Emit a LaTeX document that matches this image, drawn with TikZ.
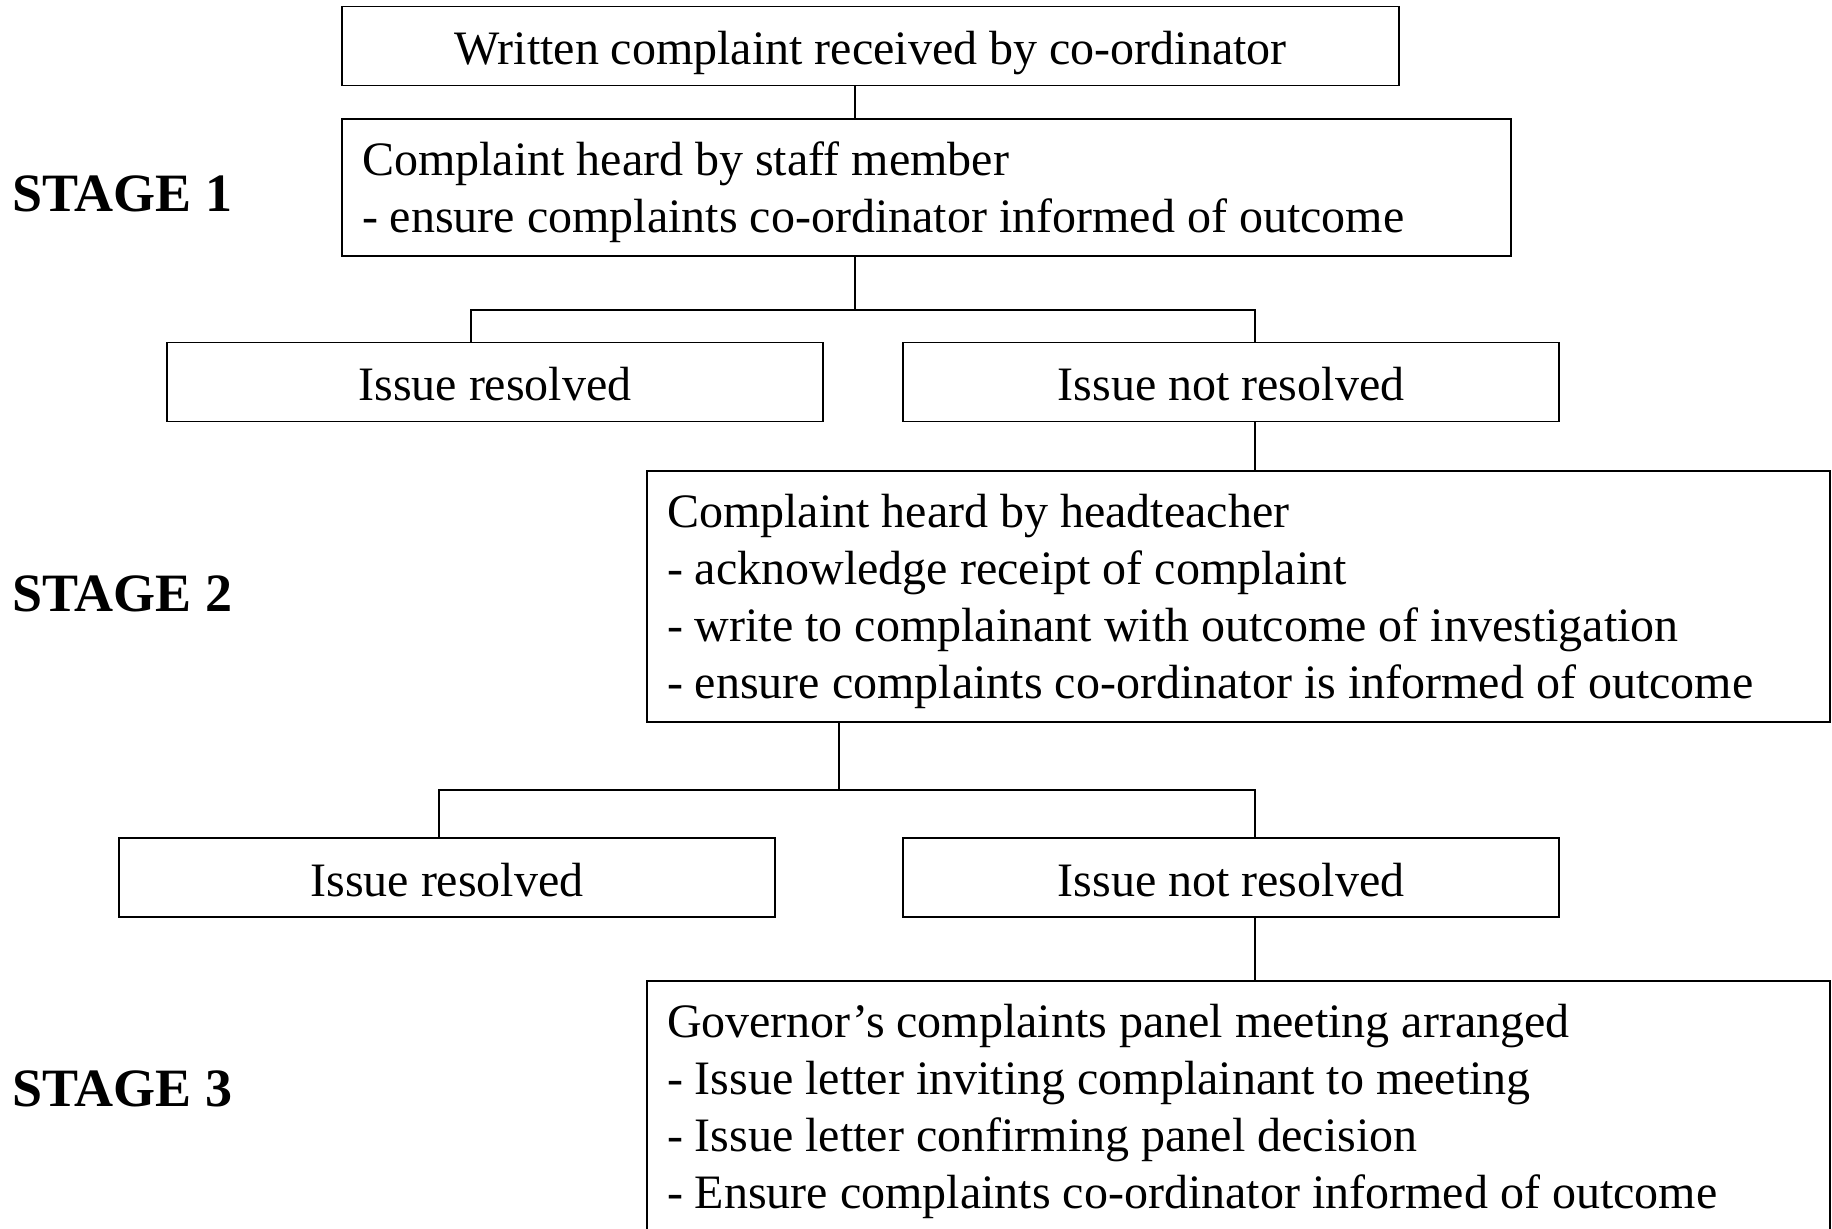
\documentclass[tikz,border=0pt]{standalone}
\usepackage{fontspec}
\setmainfont{Liberation Serif}

\tikzset{
  stagebox/.style={draw,line width=0.8pt,inner sep=0pt,font=\fontsize{24}{28.5}\selectfont},
  onebox/.style={stagebox,minimum width=#1,minimum height=39.5pt,text height=18.5pt,text depth=0pt},
  listbox/.style={stagebox,align=flush left,inner xsep=10pt,text width=#1,
    execute at begin node={\rule{0pt}{22pt}}},
  stagelabel/.style={anchor=west,inner sep=0pt,font=\fontsize{27}{30}\selectfont\bfseries}
}

\begin{document}
\begin{tikzpicture}[x=0.5pt,y=-0.5pt,line width=0.8pt]
      \useasboundingbox (0,0) rectangle (1832,1228);
      % stage labels
      \node[stagelabel] (lab1) at (12,194) {STAGE 1};
      \node[stagelabel] (lab2) at (12,594) {STAGE 2};
      \node[stagelabel] (lab3) at (12,1089) {STAGE 3};
      % boxes
      \node[onebox=528.5pt] (recv) at (870.5,46)
        {Written complaint received by co-ordinator};
      \node[listbox=564.5pt,minimum height=68.5pt] (staff) at (926.5,187.5)
        {Complaint heard by staff member\\
         - ensure complaints co-ordinator informed of outcome};
      \node[onebox=328pt] (res1) at (495,382) {Issue resolved};
      \node[onebox=328pt] (nres1) at (1231,382) {Issue not resolved};
      \node[listbox=571.5pt,minimum height=125.5pt] (head) at (1238.5,596.5)
        {Complaint heard by headteacher\\
         - acknowledge receipt of complaint\\
         - write to complainant with outcome of investigation\\
         - ensure complaints co-ordinator is informed of outcome};
      \node[onebox=328pt] (res2) at (447,877.5) {Issue resolved};
      \node[onebox=328pt] (nres2) at (1231,877.5) {Issue not resolved};
      \node[listbox=571.5pt,minimum height=125.5pt] (panel) at (1238.5,1106.5)
        {Governor's complaints panel meeting arranged\\
         - Issue letter inviting complainant to meeting\\
         - Issue letter confirming panel decision\\
         - Ensure complaints co-ordinator informed of outcome};
      % branch points
      \coordinate (fork1) at (855,310);
      \coordinate (left1) at (471,310);
      \coordinate (right1) at (1255,310);
      \coordinate (fork2) at (839,790);
      \coordinate (left2) at (439,790);
      \coordinate (right2) at (1255,790);
      % connectors
      \draw (recv.south -| fork1) -- (staff.north -| fork1);
      \draw (staff.south -| fork1) -- (fork1);
      \draw (res1.north -| left1) -- (left1) -- (right1) -- (nres1.north -| right1);
      \draw (nres1.south -| right1) -- (head.north -| right1);
      \draw (head.south -| fork2) -- (fork2);
      \draw (res2.north -| left2) -- (left2) -- (right2) -- (nres2.north -| right2);
      \draw (nres2.south -| right2) -- (panel.north -| right2);
    \end{tikzpicture}
\end{document}
